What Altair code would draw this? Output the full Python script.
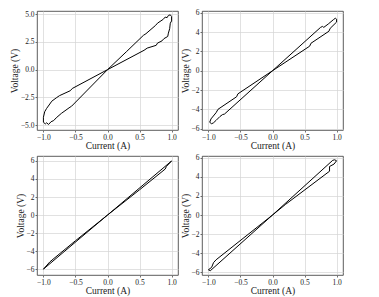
import altair as alt
import pandas as pd

# Top-left loop (Current A, Voltage V)
tl_x = [0.0, 0.3, 0.56, 0.6, 0.75, 0.78, 0.87, 0.9, 0.93, 0.95, 0.98, 1.0, 1.0, 0.98, 0.97, 0.95, 0.94, 0.88, 0.85, 0.78, 0.76, 0.62, 0.57, 0.0,
        -0.55, -0.58, -0.75, -0.8, -0.87, -0.9, -0.95, -0.98, -1.0, -1.0, -0.97, -0.95, -0.92, -0.88, -0.84, -0.8, -0.72, -0.6, -0.56, 0.0]
tl_y = [0.0, 1.65, 3.1, 3.25, 4.0, 4.2, 4.55, 4.75, 4.7, 4.9, 4.95, 4.8, 4.4, 4.2, 3.7, 3.3, 3.0, 2.8, 2.6, 2.4, 2.2, 1.95, 1.75, 0.0,
        -1.7, -1.9, -2.35, -2.55, -2.85, -3.1, -3.5, -3.8, -4.3, -4.75, -4.9, -4.8, -4.95, -4.7, -4.6, -4.35, -3.95, -3.45, -3.3, 0.0]

# Top-right loop
tr_x = [0.0, 0.75, 0.78, 0.8, 0.87, 0.95, 0.98, 1.0, 1.0, 0.9, 0.88, 0.6, 0.58, 0.0,
        -0.54, -0.56, -0.85, -0.88, -0.96, -0.98, -0.95, -0.92, -0.88, -0.82, -0.78, -0.75, 0.0]
tr_y = [0.0, 4.5, 4.6, 4.5, 4.85, 5.3, 5.45, 5.35, 5.05, 4.4, 4.1, 2.85, 2.55, 0.0,
        -2.4, -2.7, -4.0, -4.35, -5.0, -5.35, -5.5, -5.4, -5.15, -4.75, -4.55, -4.5, 0.0]

# Bottom-left loop
bl_x = [0.0, 1.0, 0.92, 0.9, 0.5, 0.0, -1.0, -0.9, -0.85, -0.5, 0.0]
bl_y = [0.0, 6.0, 5.4, 5.1, 2.8, 0.0, -6.0, -5.2, -4.9, -2.85, 0.0]

# Bottom-right loop
br_x = [0.0, 0.94, 0.97, 1.0, 0.96, 0.89, 0.89, 0.2, 0.0, -0.97, -1.0, -0.95, -0.92, -0.88, 0.0]
br_y = [0.0, 5.75, 5.8, 5.7, 5.35, 5.1, 4.6, 1.1, 0.0, -5.85, -5.75, -5.5, -5.0, -4.7, 0.0]

x_ticks = [-1.0, -0.5, 0.0, 0.5, 1.0]
y_ticks_a = [-5.0, -2.5, 0.0, 2.5, 5.0]
y_ticks_b = [-6, -4, -2, 0, 2, 4, 6]

FONT = "Liberation Serif"


def panel(xs, ys, ydom, yticks, yfmt):
    df = pd.DataFrame({"i": list(range(len(xs))), "x": xs, "y": ys})
    return alt.Chart(df).mark_line(color="black", strokeWidth=1).encode(
        x=alt.X("x:Q", title="Current (A)",
                scale=alt.Scale(domain=[-1.1, 1.1], nice=False, zero=False),
                axis=alt.Axis(values=x_ticks, format=".1f", titlePadding=0)),
        y=alt.Y("y:Q", title="Voltage (V)",
                scale=alt.Scale(domain=ydom, nice=False, zero=False),
                axis=alt.Axis(values=yticks, format=yfmt)),
        order=alt.Order("i:Q"),
    ).properties(width=141, height=119)


c1 = panel(tl_x, tl_y, [-5.45, 5.3], y_ticks_a, ".1f")
c2 = panel(tr_x, tr_y, [-6.15, 6.2], y_ticks_b, "d")
c3 = panel(bl_x, bl_y, [-6.65, 6.55], y_ticks_b, "d")
c4 = panel(br_x, br_y, [-6.3, 6.2], y_ticks_b, "d")

chart = alt.vconcat(
    alt.hconcat(c1, c2, spacing=0),
    alt.hconcat(c3, c4, spacing=0),
    spacing=2,
).properties(
    padding={"left": 0, "top": 0, "right": 0, "bottom": 0}
).configure_view(
    stroke="#333333", strokeWidth=0.8
).configure_axis(
    labelFont=FONT, titleFont=FONT, labelFontSize=7.5, titleFontSize=9.5,
    labelColor="#222222", titleColor="#222222", titleFontWeight="normal",
    grid=True, gridColor="#d4d4d4", gridWidth=0.7,
    domain=False, tickColor="#333333", tickSize=2, tickWidth=0.7,
    labelPadding=1, titlePadding=1,
)

chart.save("out.html", embed_options={"renderer": "svg", "actions": False})
